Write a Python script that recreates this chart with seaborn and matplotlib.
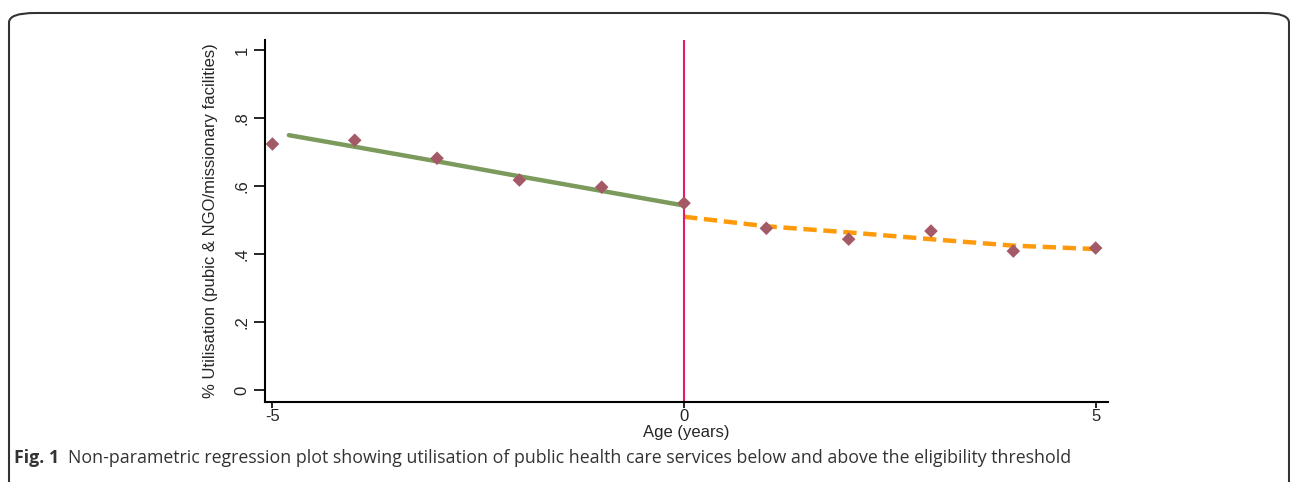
import matplotlib
matplotlib.use("Agg")
import matplotlib.pyplot as plt
import seaborn as sns
import pandas as pd
from matplotlib.patches import FancyBboxPatch

# Data
ages = [-5, -4, -3, -2, -1, 0, 1, 2, 3, 4, 5]
utilisation = [0.724, 0.735, 0.682, 0.618, 0.597, 0.550, 0.476, 0.444, 0.468, 0.409, 0.418]

fit_below_x = [-4.8, -4, -3, -2, -1, 0]
fit_below_y = [0.750, 0.716, 0.673, 0.629, 0.586, 0.543]

fit_above_x = [0, 1, 2, 3, 4, 5]
fit_above_y = [0.510, 0.482, 0.464, 0.444, 0.425, 0.415]

y_ticks = [0, 0.2, 0.4, 0.6, 0.8, 1]
y_ticklabels = ["0", ".2", ".4", ".6", ".8", "1"]
x_ticks = [-5, 0, 5]
x_ticklabels = ["-5", "0", "5"]

sns.set_style("ticks")
plt.rcParams['font.family'] = ['Liberation Sans', 'DejaVu Sans']

W, H = 1290, 482
fig = plt.figure(figsize=(W / 100, H / 100), dpi=100)
ax = fig.add_axes([265 / W, 1 - 402 / H, (1108 - 265) / W, (402 - 40) / H])

pts = pd.DataFrame({"age": ages, "util": utilisation})
below = pd.DataFrame({"age": fit_below_x, "util": fit_below_y})
above = pd.DataFrame({"age": fit_above_x, "util": fit_above_y})

sns.lineplot(data=below, x="age", y="util", ax=ax, color="#7b9a5b", lw=3.2)
sns.lineplot(data=above, x="age", y="util", ax=ax, color="#ff9a0a", lw=3.2,
             linestyle=(0, (3, 1.5)))
ax.axvline(0, color="#e8176a", lw=1.5)
sns.scatterplot(data=pts, x="age", y="util", ax=ax, marker="D", s=48,
                color="#a45a66", edgecolor="none", zorder=5)

ax.set_xlim(-5.09, 5.15)
ax.set_ylim(-0.035, 1.03)
ax.set_yticks(y_ticks)
ax.set_yticklabels(y_ticklabels, rotation=90, va="center", fontsize=12)
ax.set_xticks(x_ticks)
ax.set_xticklabels(x_ticklabels, fontsize=12)
ax.tick_params(axis="y", length=8, width=1.2, color="black", pad=3)
ax.tick_params(axis="x", length=4, width=1.2, color="black", pad=1)
for s in ["top", "right"]:
    ax.spines[s].set_visible(False)
for s in ["left", "bottom"]:
    ax.spines[s].set_linewidth(1.5)
    ax.spines[s].set_color("black")

ax.set_xlabel("Age (years)", fontsize=12)
ax.xaxis.set_label_coords(0.5, -(432 - 402) / (402 - 40), transform=ax.transAxes)
ax.xaxis.label.set_va("center")
ax.set_ylabel("% Utilisation (pubic & NGO/missionary facilities)", fontsize=12)
ax.yaxis.set_label_coords(-(265 - 210) / (1108 - 265), 0.5, transform=ax.transAxes)
ax.yaxis.label.set_va("center")

# Frame and caption
frame = FancyBboxPatch((9 / W, -0.1), (1289 - 9) / W, 1.0 - 13 / H + 0.1,
                       boxstyle="round,pad=0,rounding_size=0.02",
                       transform=fig.transFigure, fill=False,
                       edgecolor="#333333", lw=1.5, clip_on=False)
fig.patches.append(frame)

fig.text(14 / W, 1 - 463 / H, "Fig. 1", fontsize=12.8, fontweight="bold",
         family=["Open Sans", "DejaVu Sans"], va="baseline", ha="left", color="#333333")
fig.text(68 / W, 1 - 463 / H,
         "Non-parametric regression plot showing utilisation of public health care services below and above the eligibility threshold",
         fontsize=12.8, family=["Open Sans", "DejaVu Sans"], va="baseline", ha="left",
         color="#333333")

fig.savefig("out.png", dpi=100)
